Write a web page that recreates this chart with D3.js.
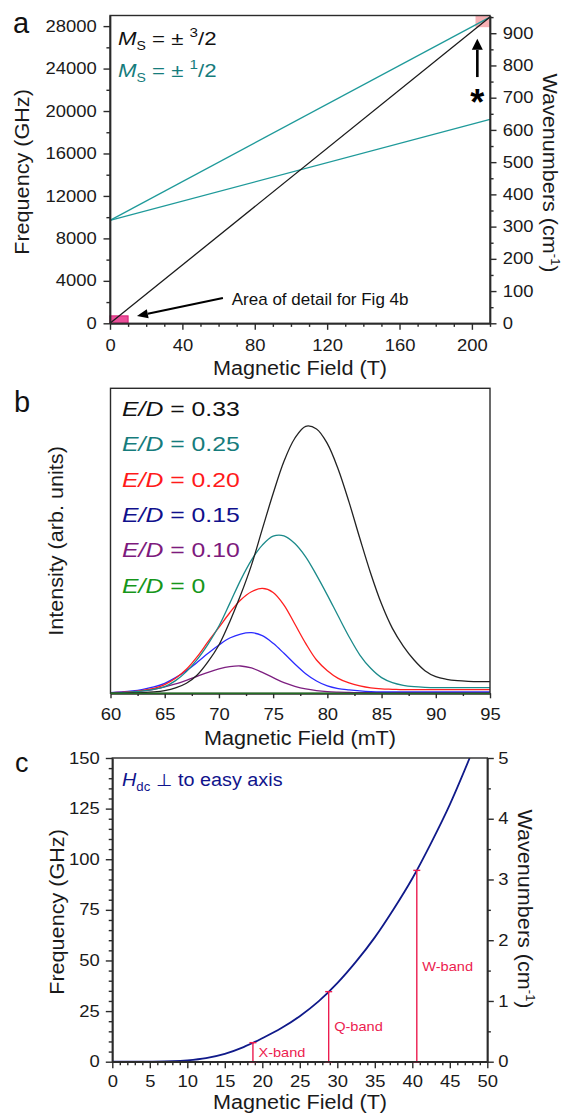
<!DOCTYPE html>
<html>
<head>
<meta charset="utf-8">
<script src="https://cdn.jsdelivr.net/npm/d3@7"></script>
<style>
  body { margin: 0; background: #fff; }
  svg { font-family: "Liberation Sans", Arial, sans-serif; }
  .axis path, .axis line { stroke: #2b2b2b; stroke-width: 1.4; }
  .axis text { font-size: 16px; fill: #1a1a1a; font-family: "Liberation Sans", Arial, sans-serif; }
</style>
</head>
<body>
<svg id="fig" width="565" height="1115"></svg>
<script>
// panel a: EPR transition frequencies vs field
const fieldA = [0, 210]; // T
const freqMs32 = [0, 28850]; // GHz, Ms = ±3/2
const freqMs12Upper = [9700, 28850]; // GHz, Ms = ±1/2 (upper branch)
const freqMs12Lower = [9700, 19210]; // GHz, Ms = ±1/2 (lower branch)
const xTicksA = [0, 40, 80, 120, 160, 200];
const yTicksA = [0, 4000, 8000, 12000, 16000, 20000, 24000, 28000];
const wnTicksA = [0, 100, 200, 300, 400, 500, 600, 700, 800, 900];

// panel b: simulated spectra for different E/D
const fieldB = [60, 61, 62, 63, 64, 65, 66, 67, 68, 69, 70, 71, 72, 73, 74, 75, 76, 77,
                78, 79, 80, 81, 82, 83, 84, 85, 86, 87, 88, 89, 90, 91, 92, 93, 94, 95]; // mT
const ed033 = [0, 0, 0.01, 0.02, 0.04, 0.08, 0.16, 0.3, 0.55, 0.95, 1.45, 2.15, 2.95, 3.85, 4.93, 6.0, 6.97, 7.66,
               8.02, 7.94, 7.5, 6.73, 5.74, 4.65, 3.6, 2.68, 1.95, 1.42, 1.0, 0.68, 0.5, 0.42, 0.38, 0.36, 0.35, 0.35];
const ed025 = [0.01, 0.02, 0.04, 0.07, 0.12, 0.2, 0.38, 0.65, 1.02, 1.48, 2.02, 2.7, 3.4, 4.0, 4.45, 4.72, 4.73, 4.5,
               4.1, 3.55, 2.95, 2.32, 1.7, 1.15, 0.75, 0.47, 0.32, 0.24, 0.2, 0.18, 0.17, 0.17, 0.17, 0.17, 0.17, 0.17];
const ed020 = [0.015, 0.03, 0.05, 0.09, 0.15, 0.26, 0.45, 0.72, 1.1, 1.55, 1.98, 2.42, 2.8, 3.05, 3.15, 3.03, 2.65, 2.08,
               1.5, 1.0, 0.68, 0.45, 0.31, 0.22, 0.16, 0.13, 0.12, 0.11, 0.11, 0.11, 0.11, 0.11, 0.11, 0.11, 0.11, 0.11];
const ed015 = [0.02, 0.04, 0.07, 0.12, 0.19, 0.3, 0.47, 0.68, 0.93, 1.2, 1.45, 1.66, 1.78, 1.82, 1.73, 1.5, 1.2, 0.88,
               0.59, 0.37, 0.22, 0.14, 0.1, 0.07, 0.05, 0.04, 0.04, 0.04, 0.04, 0.04, 0.04, 0.04, 0.04, 0.04, 0.04, 0.04];
const ed010 = [0.01, 0.02, 0.04, 0.07, 0.12, 0.19, 0.28, 0.39, 0.51, 0.63, 0.73, 0.8, 0.82, 0.76, 0.63, 0.47, 0.32, 0.21,
               0.13, 0.08, 0.05, 0.035, 0.025, 0.02, 0.02, 0.02, 0.02, 0.02, 0.02, 0.02, 0.02, 0.02, 0.02, 0.02, 0.02, 0.02];
const ed000 = [0, 0, 0, 0, 0, 0, 0, 0, 0, 0, 0, 0, 0, 0, 0, 0, 0, 0,
               0, 0, 0, 0, 0, 0, 0, 0, 0, 0, 0, 0, 0, 0, 0, 0, 0, 0];
const edLabels = ['0.33', '0.25', '0.20', '0.15', '0.10', '0'];
const edSeries = [ed033, ed025, ed020, ed015, ed010, ed000];
const edLineColors = ['#222222', '#1b8a8a', '#ff1f1f', '#2b2bff', '#7d1f80', '#1e9a1e'];
const edTextColors = ['#111111', '#167c7c', '#ff1a1a', '#10108c', '#7d1a7d', '#16961a'];
const xTicksB = [60, 65, 70, 75, 80, 85, 90, 95];

// panel c: frequency vs perpendicular field
const fieldC = [0, 5, 8, 10, 12.5, 15, 17.5, 20, 22.5, 25, 27.5, 30, 32.5, 35, 37.5, 40, 42.5, 45, 47.65]; // T
const freqC = [0, 0.05, 0.25, 0.7, 1.8, 3.9, 7.2, 11.6, 16.5, 22.5, 29.8, 38.8, 49.4, 61.4, 75.3, 90.5, 108, 127, 150]; // GHz
const bandNames = ['X-band', 'Q-band', 'W-band'];
const bandField = [18.75, 28.85, 40.6];
const bandFreq = [9.4, 34.6, 94.5];
const xTicksC = [0, 5, 10, 15, 20, 25, 30, 35, 40, 45, 50];
const yTicksC = [0, 25, 50, 75, 100, 125, 150];
const wnTicksC = [0, 1, 2, 3, 4, 5];

const svg = d3.select('#fig');
const axisColor = '#2b2b2b';

// major + minor ticks on one side
function addAxis(axisFn, scale, majors, minors, transform, size, pad) {
    svg.append('g').attr('class', 'axis').attr('transform', transform)
        .call(axisFn(scale).tickValues(minors).tickSize(size * 0.55).tickFormat('').tickSizeOuter(0));
    svg.append('g').attr('class', 'axis').attr('transform', transform)
        .call(axisFn(scale).tickValues(majors).tickSize(size).tickPadding(pad).tickFormat(d3.format('d')).tickSizeOuter(0));
}

function frame(x0, x1, y0, y1) {
    svg.append('rect')
        .attr('x', x0).attr('y', y0).attr('width', x1 - x0).attr('height', y1 - y0)
        .attr('fill', 'none').attr('stroke', axisColor).attr('stroke-width', 1.4);
}

function arrow(x1, y1, x2, y2, width, headLen, headW) {
    const ang = Math.atan2(y2 - y1, x2 - x1);
    const bx = x2 - headLen * Math.cos(ang), by = y2 - headLen * Math.sin(ang);
    svg.append('line').attr('x1', x1).attr('y1', y1).attr('x2', bx).attr('y2', by)
        .attr('stroke', '#000').attr('stroke-width', width);
    const px = -Math.sin(ang) * headW / 2, py = Math.cos(ang) * headW / 2;
    svg.append('polygon')
        .attr('points', `${x2},${y2} ${bx + px},${by + py} ${bx - px},${by - py}`)
        .attr('fill', '#000');
}

// the original lettering is a little wider than Arial, so stretch it
function widen(sel, k) {
    sel.each(function() {
        const w = this.getComputedTextLength();
        d3.select(this).attr('textLength', w * k).attr('lengthAdjust', 'spacingAndGlyphs');
    });
}

function panelLabel(txt, x, y, size) {
    svg.append('text').attr('x', x).attr('y', y).attr('font-size', size).attr('fill', '#111').text(txt);
}

function yTitle(x, y, rot, main, sup) {
    const t = svg.append('text')
        .attr('transform', `translate(${x},${y}) rotate(${rot})`)
        .attr('text-anchor', 'middle').attr('font-size', 20).attr('fill', '#1a1a1a')
        .text(main);
    if (sup) {
        t.append('tspan').attr('font-size', 12).attr('dy', -8).text(sup);
        t.append('tspan').attr('dy', 8).text(')');
    }
    widen(t, 1.08);
}

function xTitle(x, y, txt) {
    const t = svg.append('text').attr('x', x).attr('y', y).attr('text-anchor', 'middle')
        .attr('font-size', 20).attr('fill', '#1a1a1a').text(txt);
    widen(t, 1.08);
}

// ===================== panel a =====================
const A = { l: 110, r: 490, t: 15.5, b: 323.3 };
const xA = d3.scaleLinear().domain([0, 210]).range([A.l, A.r]);
const yA = d3.scaleLinear().domain([0, 29000]).range([A.b, A.t]);
const wA = d3.scaleLinear().domain([0, 955]).range([A.b, A.t]);

// highlighted regions
svg.append('rect')
    .attr('x', xA(202)).attr('y', yA(29000)).attr('width', xA(210) - xA(202)).attr('height', yA(27900) - yA(29000))
    .attr('fill', '#f6a3a8').attr('opacity', 0.85);
svg.append('rect')
    .attr('x', xA(0)).attr('y', yA(700)).attr('width', xA(10) - xA(0)).attr('height', yA(0) - yA(700))
    .attr('fill', '#ec4f9a').attr('stroke', '#d81b74').attr('stroke-width', 1);

const lineA = d3.line().x((d, i) => xA(fieldA[i])).y(d => yA(d));
[[freqMs12Upper, '#1f9a9a'], [freqMs12Lower, '#1f9a9a'], [freqMs32, '#1a1a1a']].forEach(([s, c]) => {
    svg.append('path').attr('d', lineA(s)).attr('fill', 'none').attr('stroke', c).attr('stroke-width', 1.3);
});

addAxis(d3.axisBottom, xA, xTicksA, d3.range(10, 211, 10).filter(v => v % 40), `translate(0,${A.b})`, 6.5, 9.5);
addAxis(d3.axisLeft, yA, yTicksA, d3.range(2000, 29000, 4000), `translate(${A.l},0)`, 6.5, 6.8);
addAxis(d3.axisRight, wA, wnTicksA, d3.range(50, 956, 100), `translate(${A.r},0)`, 6.5, 6.2);
frame(A.l, A.r, A.t, A.b);

// legend
const legA = [['3', '#111111'], ['1', '#167c7c']];
legA.forEach(([num, col], i) => {
    const t = svg.append('text').attr('x', 118).attr('y', 45 + i * 32).attr('font-size', 19).attr('fill', col);
    t.append('tspan').attr('font-style', 'italic').text('M');
    t.append('tspan').attr('font-size', 12).attr('dy', 5).text('S');
    t.append('tspan').attr('dy', -5).text(' = \u00b1 ');
    t.append('tspan').attr('font-size', 13).attr('dy', -8).text(num);
    t.append('tspan').attr('dy', 8).text('/2');
    widen(t, 1.17);
});

// annotations
arrow(xA(62.4), yA(2380), xA(14.9), yA(690), 2.2, 11, 9);
svg.append('text').attr('x', xA(67.3)).attr('y', yA(1720)).attr('font-size', 17).attr('fill', '#111')
    .text('Area of detail for Fig 4b');
arrow(xA(203), yA(23200), xA(203), yA(26800), 2.6, 11, 11);
svg.append('text').attr('x', xA(203)).attr('y', yA(19600)).attr('text-anchor', 'middle')
    .attr('font-size', 36).attr('font-weight', 'bold').attr('fill', '#000').text('*');

panelLabel('a', 13, 33, 29);
yTitle(29, 172, -90, 'Frequency (GHz)');
yTitle(543, 173, 90, 'Wavenumbers (cm', '-1');
xTitle(300, 375, 'Magnetic Field (T)');

// ===================== panel b =====================
const B = { l: 110.5, r: 490, t: 388.3, b: 693.3 };
const xB = d3.scaleLinear().domain([60, 95]).range([B.l, B.r]);
const yB = d3.scaleLinear().domain([0, 9.16]).range([B.b, B.t]);

addAxis(d3.axisBottom, xB, xTicksB, d3.range(62.5, 95, 5), `translate(0,${B.b})`, 5, 10);

const lineB = d3.line().x((d, i) => xB(fieldB[i])).y(d => yB(d)).curve(d3.curveCatmullRom.alpha(0.5));
[5, 4, 3, 2, 1, 0].forEach(k => {
    svg.append('path').attr('d', lineB(edSeries[k])).attr('fill', 'none')
        .attr('stroke', edLineColors[k]).attr('stroke-width', 1.3);
});
frame(B.l, B.r, B.t, B.b);
// E/D = 0 lies on the baseline, tinting the axis green
svg.append('path').attr('d', lineB(ed000)).attr('fill', 'none')
    .attr('stroke', edLineColors[5]).attr('stroke-width', 1.2).attr('opacity', 0.6);

edLabels.forEach((lab, i) => {
    const t = svg.append('text').attr('x', 122).attr('y', 416 + i * 35.3)
        .attr('font-size', 21).attr('fill', edTextColors[i]);
    t.append('tspan').attr('font-style', 'italic').text('E/D');
    t.append('tspan').text(' = ' + lab);
    widen(t, 1.18);
});

panelLabel('b', 14, 412, 29);
yTitle(63, 541, -90, 'Intensity (arb. units)');
xTitle(300, 745, 'Magnetic Field (mT)');

// ===================== panel c =====================
const C = { l: 112.3, r: 487.3, t: 758, b: 1061.7 };
const xC = d3.scaleLinear().domain([0, 50]).range([C.l, C.r]);
const yC = d3.scaleLinear().domain([0, 150]).range([C.b, C.t]);
const wC = d3.scaleLinear().domain([0, 5]).range([C.b, C.t]);

addAxis(d3.axisBottom, xC, xTicksC, d3.range(1, 50, 1).filter(v => v % 5), `translate(0,${C.b})`, 6.5, 7);
addAxis(d3.axisLeft, yC, yTicksC, d3.range(5, 150, 5).filter(v => v % 25), `translate(${C.l},0)`, 6.5, 6);
addAxis(d3.axisRight, wC, wnTicksC, d3.range(0.5, 5, 1), `translate(${C.r},0)`, 6.5, 4.5);

svg.append('clipPath').attr('id', 'clipC').append('rect')
    .attr('x', C.l).attr('y', C.t).attr('width', C.r - C.l).attr('height', C.b - C.t);
const lineC = d3.line().x((d, i) => xC(fieldC[i])).y(d => yC(d)).curve(d3.curveCatmullRom.alpha(0.5));
svg.append('path').attr('d', lineC(freqC)).attr('fill', 'none').attr('clip-path', 'url(#clipC)')
    .attr('stroke', '#101a8a').attr('stroke-width', 1.8);

// EPR band markers
const bandColor = '#ec1c4f';
bandNames.forEach((name, i) => {
    const x = xC(bandField[i]);
    svg.append('line').attr('x1', x).attr('x2', x).attr('y1', yC(0)).attr('y2', yC(bandFreq[i]))
        .attr('stroke', bandColor).attr('stroke-width', 1.4);
    [0, bandFreq[i]].forEach(v => {
        svg.append('line').attr('x1', x - 3.5).attr('x2', x + 3.5).attr('y1', yC(v)).attr('y2', yC(v))
            .attr('stroke', bandColor).attr('stroke-width', 1.4);
    });
    const t = svg.append('text').attr('x', x + 5.5).attr('y', yC(bandFreq[i] / 2)).attr('dy', '0.35em')
        .attr('font-size', 13).attr('fill', bandColor).text(name);
    widen(t, 1.12);
});
frame(C.l, C.r, C.t, C.b);

const legC = svg.append('text').attr('x', 122).attr('y', 786).attr('font-size', 18).attr('fill', '#10148c');
legC.append('tspan').attr('font-style', 'italic').text('H');
legC.append('tspan').attr('font-size', 12).attr('dy', 5).text('dc');
legC.append('tspan').attr('dy', -5).attr('font-family', 'DejaVu Sans').attr('font-size', 17).text(' \u22a5');
legC.append('tspan').text(' to easy axis');
widen(legC, 1.1);

panelLabel('c', 15, 772, 27);
yTitle(64, 912, -90, 'Frequency (GHz)');
yTitle(518, 909, 90, 'Wavenumbers (cm', '-1');
xTitle(300, 1109, 'Magnetic Field (T)');

widen(svg.selectAll('.axis text'), 1.15);
</script>
</body>
</html>
